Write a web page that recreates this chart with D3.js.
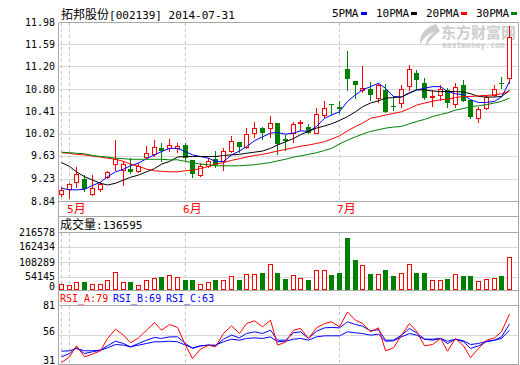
<!DOCTYPE html>
<html>
<head>
<meta charset="utf-8">
<script src="https://cdn.jsdelivr.net/npm/d3@7"></script>
<style>
  body { margin: 0; background: #fff; }
  text { font-family: "DejaVu Sans Mono", "Noto Sans CJK SC", monospace; font-size: 10px; }
  .cjk { font-family: "Noto Sans CJK SC", sans-serif; font-size: 12px; }
</style>
</head>
<body>
<div id="chart"></div>
<script>
// Daily bars, 2014-04-30 .. 2014-07-31 (index = trading day shown)
const open  = [8.90, 8.99, 9.13, 9.18, 8.90, 8.99, 9.21, 9.45, 9.34, 9.36,
               9.33, 9.58, 9.64, 9.75, 9.74, 9.75, 9.80, 9.53, 9.25, 9.42,
               9.54, 9.50, 9.69, 9.85, 9.76, 10.03, 10.11, 10.11, 10.20, 9.91,
               10.02, 10.20, 10.13, 10.03, 10.35, 10.55, 10.49, 11.19, 10.97, 10.81,
               10.82, 10.66, 10.81, 10.52, 10.57, 10.88, 11.12, 10.93, 10.68, 10.72,
               10.81, 10.55, 10.90, 10.63, 10.29, 10.47, 10.72, 10.94, 11.02];
const high  = [9.04, 9.10, 9.40, 9.25, 9.25, 9.13, 9.33, 9.89, 9.50, 9.56,
               9.47, 9.78, 9.89, 9.83, 9.91, 9.84, 9.83, 9.53, 9.47, 9.57,
               9.70, 9.74, 9.97, 9.85, 10.11, 10.22, 10.13, 10.34, 10.20, 9.99,
               10.23, 10.26, 10.18, 10.47, 10.61, 10.55, 10.61, 11.53, 10.97, 11.24,
               10.96, 10.93, 10.92, 10.69, 10.90, 11.27, 11.18, 11.02, 10.81, 10.90,
               10.85, 10.93, 10.99, 10.63, 10.49, 10.72, 10.90, 11.05, 11.98];
const low   = [8.86, 8.84, 9.04, 8.95, 8.89, 8.95, 9.20, 9.34, 9.06, 9.28,
               9.31, 9.56, 9.60, 9.51, 9.69, 9.68, 9.53, 9.22, 9.24, 9.40,
               9.40, 9.34, 9.68, 9.68, 9.74, 9.95, 9.92, 9.94, 9.64, 9.71,
               9.85, 10.08, 10.02, 10.02, 10.31, 10.37, 10.38, 10.80, 10.66, 10.78,
               10.63, 10.58, 10.40, 10.44, 10.50, 10.81, 10.83, 10.64, 10.52, 10.63,
               10.49, 10.50, 10.60, 10.29, 10.23, 10.46, 10.69, 10.84, 10.94];
const close = [8.98, 9.08, 9.27, 8.99, 9.02, 9.09, 9.31, 9.54, 9.45, 9.31,
               9.42, 9.65, 9.77, 9.70, 9.81, 9.79, 9.56, 9.27, 9.42, 9.50,
               9.44, 9.70, 9.88, 9.77, 10.00, 10.11, 10.02, 10.20, 9.82, 9.88,
               10.18, 10.23, 10.03, 10.37, 10.47, 10.53, 10.46, 11.01, 10.90, 10.84,
               10.72, 10.90, 10.41, 10.49, 10.82, 11.19, 10.99, 10.66, 10.70, 10.83,
               10.57, 10.87, 10.61, 10.32, 10.46, 10.68, 10.82, 10.93, 11.77];

// moving averages as drawn
const ma5  = [9.01, 8.98, 8.98, 8.99, 9.06, 9.12, 9.22, 9.31, 9.36, 9.42,
              9.47, 9.55, 9.62, 9.68, 9.74, 9.74, 9.68, 9.62, 9.59, 9.56,
              9.50, 9.50, 9.62, 9.69, 9.77, 9.88, 9.95, 10.02, 10.03, 10.00,
              10.02, 10.06, 10.05, 10.14, 10.29, 10.35, 10.41, 10.60, 10.72, 10.81,
              10.87, 10.93, 10.84, 10.69, 10.68, 10.76, 10.81, 10.84, 10.87, 10.87,
              10.78, 10.74, 10.72, 10.63, 10.58, 10.58, 10.60, 10.68, 10.96];
const ma10 = [9.48, 9.41, 9.31, 9.22, 9.16, 9.10, 9.07, 9.10, 9.16, 9.21,
              9.25, 9.31, 9.37, 9.45, 9.50, 9.58, 9.59, 9.59, 9.59, 9.59,
              9.59, 9.61, 9.62, 9.63, 9.65, 9.67, 9.69, 9.74, 9.80, 9.86,
              9.92, 9.99, 10.05, 10.11, 10.15, 10.19, 10.25, 10.32, 10.41, 10.50,
              10.57, 10.61, 10.66, 10.67, 10.68, 10.75, 10.81, 10.81, 10.79, 10.78,
              10.78, 10.78, 10.77, 10.74, 10.69, 10.68, 10.68, 10.69, 10.80];
const ma20 = [9.66, 9.65, 9.63, 9.62, 9.60, 9.58, 9.56, 9.54, 9.50, 9.45,
              9.41, 9.36, 9.33, 9.32, 9.31, 9.31, 9.33, 9.34, 9.37, 9.41,
              9.45, 9.48, 9.52, 9.55, 9.58, 9.61, 9.63, 9.66, 9.69, 9.72,
              9.75, 9.78, 9.80, 9.83, 9.86, 9.91, 9.97, 10.06, 10.14, 10.20,
              10.29, 10.32, 10.35, 10.38, 10.41, 10.47, 10.53, 10.57, 10.60, 10.63,
              10.64, 10.67, 10.69, 10.69, 10.70, 10.71, 10.72, 10.74, 10.79];
const ma30 = [9.67, 9.66, 9.65, 9.64, 9.61, 9.59, 9.58, 9.56, 9.55, 9.54,
              9.54, 9.54, 9.54, 9.54, 9.53, 9.53, 9.50, 9.48, 9.45, 9.44,
              9.42, 9.42, 9.42, 9.42, 9.43, 9.44, 9.46, 9.48, 9.51, 9.54,
              9.58, 9.60, 9.63, 9.66, 9.70, 9.74, 9.82, 9.89, 9.95, 10.00,
              10.05, 10.08, 10.11, 10.13, 10.14, 10.19, 10.23, 10.27, 10.32, 10.36,
              10.39, 10.44, 10.47, 10.50, 10.52, 10.54, 10.57, 10.60, 10.66];

const volume = [23100, 17700, 31500, 31500, 23100, 23100, 37000, 72300, 31500, 31500,
                17700, 37000, 48400, 52600, 59700, 51300, 39900, 37000, 23100, 31500,
                37000, 39900, 53800, 37000, 65200, 62200, 66400, 106000, 69400, 44200,
                59700, 48400, 39900, 80700, 80700, 61000, 69400, 216578, 124000, 101800,
                65200, 63900, 82000, 56800, 68100, 106000, 69400, 69400, 38700, 38700,
                44200, 63900, 56800, 56800, 34500, 42900, 47100, 56800, 136595];

const rsiA = [31.0, 36.6, 47.5, 36.6, 39.3, 42.6, 54.8, 64.0, 58.1, 50.5,
              55.4, 63.0, 70.6, 63.0, 68.6, 65.7, 48.2, 35.0, 44.2, 48.2,
              46.5, 59.7, 67.3, 59.7, 69.6, 72.3, 66.3, 72.9, 48.2, 51.1,
              63.0, 64.7, 54.8, 65.3, 69.6, 71.3, 66.3, 81.0, 72.9, 69.6,
              61.4, 65.3, 42.6, 45.5, 58.1, 69.6, 62.0, 47.5, 48.8, 54.8,
              42.2, 54.8, 47.5, 35.9, 44.9, 53.1, 55.4, 61.4, 79.0];
const rsiB = [36.6, 39.9, 45.5, 39.9, 41.6, 43.2, 47.5, 52.1, 49.8, 46.5,
              49.8, 53.1, 55.8, 54.8, 56.4, 56.4, 49.8, 44.9, 47.5, 48.2,
              47.5, 54.1, 58.1, 55.4, 59.7, 61.4, 59.7, 63.0, 53.1, 53.1,
              60.4, 61.4, 54.8, 62.0, 65.3, 65.7, 65.3, 71.3, 68.6, 67.0,
              62.5, 63.5, 53.1, 53.1, 58.1, 64.7, 60.4, 54.1, 53.1, 54.8,
              49.8, 54.1, 51.5, 44.9, 47.5, 51.5, 53.1, 56.4, 69.0];
const rsiC = [42.2, 42.6, 44.9, 42.6, 42.6, 43.2, 45.5, 48.8, 48.2, 46.5,
              48.2, 49.8, 51.5, 51.5, 52.1, 51.5, 48.2, 45.5, 47.5, 48.2,
              48.2, 51.5, 54.1, 53.1, 54.8, 55.4, 54.8, 56.4, 51.5, 52.1,
              54.1, 54.8, 53.1, 56.4, 57.4, 57.4, 57.4, 61.4, 60.4, 59.7,
              58.1, 59.0, 52.1, 52.5, 56.4, 59.7, 58.1, 54.1, 54.1, 54.8,
              52.1, 54.1, 52.5, 48.8, 49.8, 52.1, 53.1, 54.8, 63.0];

const priceTicks  = ["11.98", "11.59", "11.20", "10.80", "10.41", "10.02", "9.63", "9.23", "8.84"];
const volumeTicks = ["216578", "162434", "108289", "54145", "0"];
const rsiTicks    = ["81", "56", "31"];
const monthIndex  = [0, 1, 16, 36];
const monthLabel  = ["", "5", "6", "7"];

const maNames  = ["5PMA", "10PMA", "20PMA", "30PMA"];
const maColors = ["#0000ff", "#000000", "#ff0000", "#008000"];

const RED = "#ff0000", GREEN = "#008000", BLUE = "#0000ff";
const FRAME = "#a8a8a8", GRID = "#d8d8d8";
const left = 58.5, right = 518.5;

const svg = d3.select("#chart").append("svg")
  .attr("width", 520)
  .attr("height", 365);

const idx = d3.range(close.length);
const x = d3.scaleBand().domain(idx).range([57, 513]);
const cx = i => Math.round(x(i) + x.bandwidth() / 2) + 0.5;

// bars use a padded scale, the labels sit on the frame grid
const yPrice = d3.scaleLinear().domain([8.84, 11.98]).range([197.5, 26]);
const yPriceGrid = d3.scaleLinear().domain([8.84, 11.98]).range([201, 22]);
const yVol = d3.scaleLinear().domain([0, 216578]).range([289, 238]);
const yVolGrid = d3.scaleLinear().domain([0, 216578]).range([292, 232]);
const yRsi = d3.scaleLinear().domain([31, 81]).range([362.5, 312]);
const yRsiGrid = d3.scaleLinear().domain([31, 81]).range([365.6, 305]);

const crisp = v => Math.round(v) + 0.5;

// grid lines
const grid = svg.append("g").attr("shape-rendering", "crispEdges");
function hline(y, color) {
  grid.append("line")
    .attr("x1", left).attr("x2", right)
    .attr("y1", y).attr("y2", y)
    .attr("stroke", color);
}
priceTicks.slice(1, -1).forEach(t => hline(crisp(yPriceGrid(+t)), GRID));
volumeTicks.slice(1, -1).forEach(t => hline(crisp(yVolGrid(+t)), GRID));
hline(crisp(yRsiGrid(56)), GRID);

// dashed month separators
const bands = [[22.5, 201.5], [232.5, 290.5], [305.5, 364.5]];
monthIndex.forEach(i => {
  bands.forEach(b => {
    grid.append("line")
      .attr("x1", cx(i)).attr("x2", cx(i))
      .attr("y1", b[0]).attr("y2", b[1])
      .attr("stroke", "#c4c4c4")
      .attr("stroke-dasharray", "3,3");
  });
});

// frame
[22.5, 201.5, 216.5, crisp(yVolGrid(216578)), 290.5, crisp(yRsiGrid(81)), 364.5]
  .forEach(y => hline(y, FRAME));
grid.append("line").attr("x1", left).attr("x2", left).attr("y1", 22.5).attr("y2", 365).attr("stroke", FRAME);
grid.append("line").attr("x1", right).attr("x2", right).attr("y1", 22.5).attr("y2", 365).attr("stroke", FRAME);

// watermark
const wm = svg.append("g").attr("fill", "#cdcdcd");
wm.append("path")
  .attr("d", "M436,24 C426,27 419,34 420,45 C423,38 428,34 434,32 C428,37 425,42 426,47 C430,39 436,34 440,31 Z");
wm.append("text").attr("class", "cjk").attr("x", 441).attr("y", 38)
  .style("font-size", "15px").style("font-weight", "bold").text("东方财富网");
wm.append("text").attr("x", 442).attr("y", 48)
  .style("font-size", "8px").style("font-weight", "bold").text("eastmoney.com");

// candlesticks
const rise = i => close[i] >= open[i];
const candles = svg.append("g").attr("shape-rendering", "crispEdges");
candles.selectAll("line")
  .data(idx)
  .join("line")
  .attr("x1", cx).attr("x2", cx)
  .attr("y1", i => Math.round(yPrice(high[i])))
  .attr("y2", i => Math.round(yPrice(low[i])) + 1)
  .attr("stroke", i => rise(i) ? RED : GREEN);
candles.selectAll("rect")
  .data(idx)
  .join("rect")
  .each(function(i) {
    const top = Math.round(yPrice(Math.max(open[i], close[i])));
    const bot = Math.round(yPrice(Math.min(open[i], close[i])));
    const r = d3.select(this);
    if (rise(i)) {
      r.attr("x", cx(i) - 2).attr("y", top + 0.5)
        .attr("width", 4).attr("height", Math.max(bot - top, 1))
        .attr("fill", "#fff").attr("stroke", RED);
    } else {
      r.attr("x", cx(i) - 2.5).attr("y", top)
        .attr("width", 5).attr("height", Math.max(bot - top, 1))
        .attr("fill", GREEN);
    }
  });

// moving averages
[ma5, ma10, ma20, ma30].forEach((ma, k) => {
  svg.append("path")
    .datum(idx)
    .attr("fill", "none")
    .attr("stroke", maColors[k])
    .attr("stroke-width", 1)
    .attr("d", d3.line().x(cx).y(i => yPrice(ma[i])));
});

// volume bars
svg.append("g").attr("shape-rendering", "crispEdges")
  .selectAll("rect")
  .data(idx)
  .join("rect")
  .each(function(i) {
    const top = Math.round(yVol(volume[i]));
    const bot = Math.round(yVol(0));
    const r = d3.select(this);
    if (rise(i)) {
      r.attr("x", cx(i) - 2).attr("y", top + 0.5)
        .attr("width", 4).attr("height", bot - top)
        .attr("fill", "#fff").attr("stroke", RED);
    } else {
      r.attr("x", cx(i) - 2.5).attr("y", top)
        .attr("width", 5).attr("height", bot - top + 1)
        .attr("fill", GREEN);
    }
  });

// RSI lines
[[rsiC, BLUE], [rsiB, BLUE], [rsiA, RED]].forEach(([s, col]) => {
  svg.append("path")
    .datum(idx)
    .attr("fill", "none")
    .attr("stroke", col)
    .attr("stroke-width", 1)
    .attr("d", d3.line().x(cx).y(i => yRsi(s[i])));
});

// axis labels
const labels = svg.append("g").attr("text-anchor", "end");
priceTicks.forEach(t => {
  labels.append("text").attr("x", 55)
    .attr("y", Math.max(yPriceGrid(+t), 17)).attr("dy", "0.35em").text(t);
});
volumeTicks.forEach(t => {
  labels.append("text").attr("x", 55)
    .attr("y", Math.min(yVolGrid(+t), 286.5)).attr("dy", "0.35em").text(t);
});
rsiTicks.forEach(t => {
  labels.append("text").attr("x", 55)
    .attr("y", Math.min(Math.max(yRsiGrid(+t) - 4, 305), 360)).attr("dy", "0.35em").text(t);
});

// month labels
monthIndex.forEach((i, k) => {
  if (!monthLabel[k]) return;
  const t = svg.append("text").attr("x", cx(i) - 2.5).attr("y", 213).attr("fill", RED);
  t.append("tspan").style("font-size", "11px").text(monthLabel[k]);
  t.append("tspan").attr("class", "cjk").text("月");
});

// titles
const title = svg.append("text").attr("x", 61).attr("y", 19);
title.append("tspan").attr("class", "cjk").text("拓邦股份");
title.append("tspan").style("font-size", "11px").text("[002139] 2014-07-31");

const volTitle = svg.append("text").attr("x", 60).attr("y", 229);
volTitle.append("tspan").attr("class", "cjk").text("成交量");
volTitle.append("tspan").style("font-size", "11px").text(":" + volume[volume.length - 1]);

const rsiNames  = ["RSI_A", "RSI_B", "RSI_C"];
const rsiLast   = [rsiA, rsiB, rsiC].map(s => Math.round(s[s.length - 1]));
const rsiColors = [RED, BLUE, BLUE];
let rx = 60;
rsiNames.forEach((name, k) => {
  const t = svg.append("text").attr("x", rx).attr("y", 302)
    .attr("fill", rsiColors[k]).text(name + ":" + rsiLast[k]);
  rx = Math.round(rx + t.node().getComputedTextLength() + 5);
});

// legend
let lx = 332;
const legend = svg.append("g");
maNames.forEach((name, k) => {
  const t = legend.append("text").attr("x", lx).attr("y", 17).style("font-size", "11px").text(name);
  const w = t.node().getComputedTextLength();
  legend.append("rect")
    .attr("x", Math.round(lx + w + 2)).attr("y", 12)
    .attr("width", 6).attr("height", 3)
    .attr("fill", maColors[k]);
  lx = Math.round(lx + w + 2 + 6 + 9);
});
</script>
</body>
</html>
